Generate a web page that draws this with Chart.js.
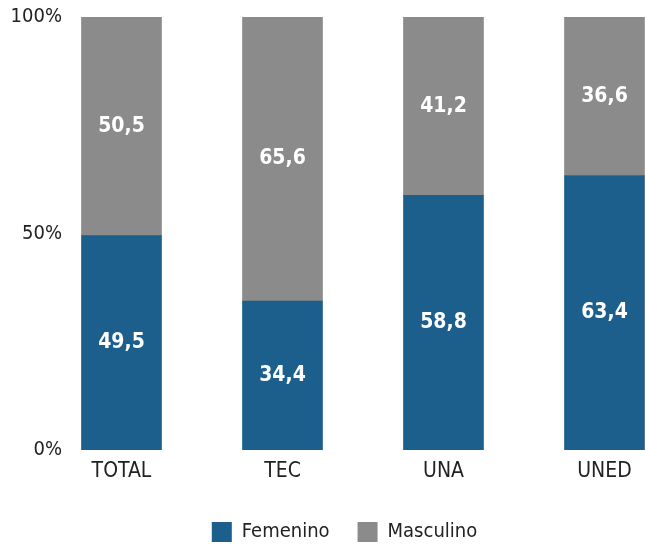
<!DOCTYPE html>
<html>
<head>
<meta charset="utf-8">
<script src="https://cdn.jsdelivr.net/npm/chart.js@4"></script>
<style>
  html, body { margin: 0; padding: 0; background: #fff; overflow: hidden; }
  #wrap { width: 645px; height: 546px; }
</style>
</head>
<body>
<div id="wrap"><canvas id="chart"></canvas></div>
<script>
// data
const categories = ["TOTAL", "TEC", "UNA", "UNED"];
const femenino = [49.5, 34.4, 58.8, 63.4];
const masculino = [50.5, 65.6, 41.2, 36.6];
const yTicks = [0, 50, 100];

const FONT = "'Liberation Sans Narrow', 'DejaVu Sans Condensed', 'Arial Narrow', sans-serif";
const BLUE = "#1c5e8c";
const GREY = "#8a8b8a";

const fmt = v => v.toFixed(1).replace(".", ",");

// white value labels in the middle of each segment
const segmentLabels = {
    id: "segmentLabels",
    afterDatasetsDraw(chart) {
        const ctx = chart.ctx;
        ctx.save();
        ctx.fillStyle = "#fff";
        ctx.font = "bold 21px " + FONT;
        ctx.textAlign = "center";
        ctx.textBaseline = "middle";
        chart.data.datasets.forEach((ds, i) => {
            chart.getDatasetMeta(i).data.forEach((bar, j) => {
                const y = (bar.y + bar.base) / 2;
                ctx.fillText(fmt(ds.data[j].y), bar.x, y);
            });
        });
        ctx.restore();
    }
};

// the legend in the original sits a bit right of the page centre
const legendShift = {
    id: "legendShift",
    afterLayout(chart) {
        chart.legend.left += 22;
        chart.legend.right += 22;
    }
};

const toPoints = arr => arr.map((v, i) => ({ x: i, y: v }));

new Chart(document.getElementById("chart"), {
    type: "bar",
    data: {
        datasets: [
            { label: "Femenino", data: toPoints(femenino), backgroundColor: BLUE },
            { label: "Masculino", data: toPoints(masculino), backgroundColor: GREY }
        ]
    },
    options: {
        responsive: true,
        maintainAspectRatio: false,
        animation: false,
        barThickness: 80,
        layout: { padding: { top: 17, right: 0, bottom: -6, left: 0 } },
        plugins: {
            legend: {
                position: "bottom",
                labels: {
                    boxWidth: 20,
                    boxHeight: 20,
                    padding: 28,
                    color: "#222",
                    font: { family: FONT, size: 20 }
                }
            },
            tooltip: { enabled: false }
        },
        scales: {
            x: {
                type: "linear",
                stacked: true,
                offset: false,
                min: -0.3447,
                max: 3.2516,
                grid: { display: false, drawTicks: false },
                border: { display: false },
                afterBuildTicks: scale => {
                    scale.ticks = categories.map((c, i) => ({ value: i }));
                },
                afterFit: scale => { scale.height = 44; },
                ticks: {
                    padding: 9,
                    color: "#222",
                    font: { family: FONT, size: 21 },
                    callback: v => categories[v]
                }
            },
            y: {
                stacked: true,
                min: 0,
                max: 100,
                grid: { display: false, drawTicks: false },
                border: { display: false },
                afterBuildTicks: scale => {
                    scale.ticks = yTicks.map(v => ({ value: v }));
                },
                afterFit: scale => { scale.width = 66; },
                ticks: {
                    padding: 4,
                    color: "#222",
                    font: { family: FONT, size: 20 },
                    callback: v => v + "%"
                }
            }
        }
    },
    plugins: [segmentLabels, legendShift]
});
</script>
</body>
</html>
